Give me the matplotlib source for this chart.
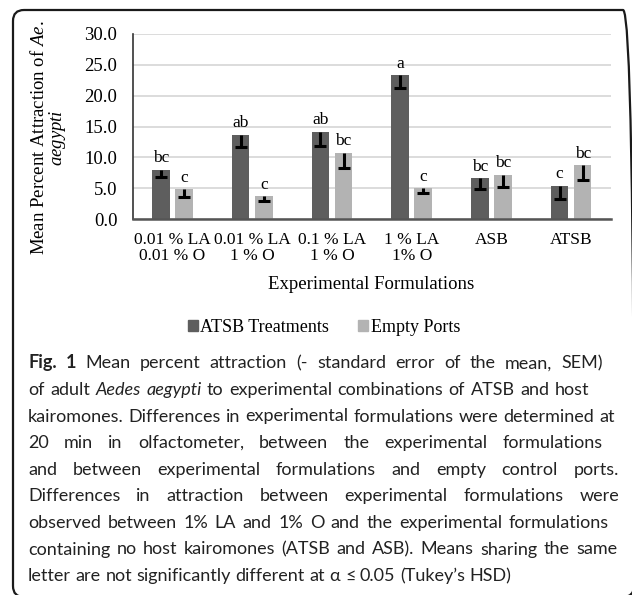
import matplotlib
matplotlib.use("Agg")
import matplotlib.pyplot as plt
import numpy as np
from matplotlib.patches import Patch, FancyBboxPatch
from matplotlib.transforms import IdentityTransform

plt.rcParams['font.family'] = ['Liberation Serif', 'DejaVu Serif']
plt.rcParams['mathtext.fontset'] = 'custom'
plt.rcParams['mathtext.rm'] = 'Liberation Serif'
plt.rcParams['mathtext.it'] = 'Liberation Serif:italic'

# data
categories = ["0.01 % LA\n0.01 % O", "0.01 % LA\n1 % O", "0.1 % LA\n1 % O",
              "1 % LA\n1% O", "ASB", "ATSB"]
atsb = [8.0, 13.7, 14.1, 23.3, 6.6, 5.4]
atsb_sem = [1.2, 2.1, 2.2, 2.0, 1.8, 2.2]
empty = [4.8, 3.7, 10.7, 5.0, 7.2, 8.7]
empty_sem = [1.2, 0.8, 2.4, 0.8, 2.0, 2.4]
atsb_letters = ["bc", "ab", "ab", "a", "bc", "c"]
empty_letters = ["c", "c", "bc", "c", "bc", "bc"]
series_names = ["ATSB Treatments", "Empty Ports"]
yticks = [0, 5, 10, 15, 20, 25, 30]

W, H = 632, 595
fig = plt.figure(figsize=(W / 100, H / 100), dpi=100)
ax = fig.add_axes([132.7 / W, 1 - 219 / H, (611 - 132.7) / W, (219 - 34) / H])

dark = '#5e5e5e'
light = '#b3b3b3'
bw = 0.22
off = 0.145
x = np.arange(len(categories))

for xs, vals, sems, col, letters in [(x - off, atsb, atsb_sem, dark, atsb_letters),
                                     (x + off, empty, empty_sem, light, empty_letters)]:
    vals = np.array(vals)
    sems = np.array(sems)
    ax.bar(xs, vals, bw, color=col, zorder=2)
    ax.vlines(xs, vals - sems, vals, color='black', lw=2.2, zorder=3)
    ax.plot(xs, vals - sems, ls='none', marker='_', ms=8, mew=2.2, color='black', zorder=3)
    for xi, v, lab in zip(xs, vals, letters):
        ax.annotate(lab, (xi, v), xytext=(0, 5.5), textcoords='offset points',
                    ha='center', va='baseline', fontsize=12.5)

ax.set_xlim(-0.5, len(categories) - 0.5)
ax.set_ylim(0, 30)
ax.set_yticks(yticks)
ax.set_yticklabels([f"{t:.1f}" for t in yticks], fontsize=13.5)
ax.set_xticks(x)
ax.set_xticklabels(categories, fontsize=12.5, linespacing=1.05)
ax.tick_params(axis='both', length=0)
ax.tick_params(axis='y', pad=11)
ax.tick_params(axis='x', pad=9)
ax.yaxis.grid(True, color='#d9d9d9', lw=1.3)
ax.set_axisbelow(True)
for s in ['top', 'right']:
    ax.spines[s].set_visible(False)
ax.spines['left'].set_color('#333333')
ax.spines['left'].set_linewidth(1.2)
ax.spines['bottom'].set_color('#555555')
ax.spines['bottom'].set_linewidth(1.8)
ax.spines['bottom'].set_zorder(4)

fig.text(371 / W, 1 - 284 / H, "Experimental Formulations", ha='center', va='center', fontsize=13.5)
fig.text(49 / W, 1 - 138 / H, "Mean Percent Attraction of $\\mathit{Ae.}$\n$\\mathit{aegypti}$",
         rotation=90, ha='center', va='center', multialignment='center',
         fontsize=13.5, linespacing=0.95)

handles = [Patch(color=dark), Patch(color=light)]
fig.legend(handles, series_names, loc='center', bbox_to_anchor=(324 / W, 1 - 327 / H),
           ncol=2, frameon=False, handlelength=0.55, handleheight=0.55,
           handletextpad=0.15, columnspacing=1.6, prop={'size': 13})

# caption, set word by word so some lines can be justified
cap_font = ['Lato', 'DejaVu Sans']
cap_lines = [
    [("Fig. 1", 'bold', 'normal'), ("Mean percent attraction (- standard error of the mean, SEM)", 'normal', 'normal')],
    [("of adult", 'normal', 'normal'), ("Aedes aegypti", 'normal', 'italic'),
     ("to experimental combinations of ATSB and host", 'normal', 'normal')],
    [("kairomones. Differences in experimental formulations were determined at", 'normal', 'normal')],
    [("20 min in olfactometer, between the experimental formulations", 'normal', 'normal')],
    [("and between experimental formulations and empty control ports.", 'normal', 'normal')],
    [("Differences in attraction between experimental formulations were", 'normal', 'normal')],
    [("observed between 1% LA and 1% O and the experimental formulations", 'normal', 'normal')],
    [("containing no host kairomones (ATSB and ASB). Means sharing the same", 'normal', 'normal')],
    [("letter are not significantly different at α ≤ 0.05 (Tukey’s HSD)", 'normal', 'normal')],
]
line_ends = [603, 589, 615, 603, 619, 619, 609, 617, None]
x0 = 28
base0 = 368.3
step = 26.6

renderer = fig.canvas.get_renderer()
ident = IdentityTransform()


def word_width(t):
    return t.get_window_extent(renderer).width


def make_words(segs, y, size):
    arts = []
    for text, weight, style in segs:
        for w in text.split():
            arts.append(fig.text(0, y, w, transform=ident, family=cap_font, fontsize=size,
                                 weight=weight, style=style, va='baseline', ha='left', color='#222222'))
    return arts


def space_width(size):
    p = fig.text(0, 0, "a a", transform=ident, family=cap_font, fontsize=size)
    q = fig.text(0, 0, "aa", transform=ident, family=cap_font, fontsize=size)
    s = word_width(p) - word_width(q)
    p.remove()
    q.remove()
    return s


# pick the largest size that lets every line fit its measured width
base_size = 14
sp = space_width(base_size)
ratio = 1.0
for segs, x_end in zip(cap_lines, line_ends):
    if x_end is None:
        continue
    arts = make_words(segs, 0, base_size)
    natural = sum(word_width(a) for a in arts) + sp * (len(arts) - 1)
    for a in arts:
        a.remove()
    ratio = min(ratio, (x_end - x0) / natural)
cap_size = base_size * ratio
space_w = space_width(cap_size)

for i, (segs, x_end) in enumerate(zip(cap_lines, line_ends)):
    y = H - (base0 + i * step)
    arts = make_words(segs, y, cap_size)
    widths = [word_width(a) for a in arts]
    gap = space_w
    if x_end is not None and len(arts) > 1:
        gap = max((x_end - x0 - sum(widths)) / (len(arts) - 1), 0.5 * space_w)
    cx = x0
    for a, wd in zip(arts, widths):
        a.set_x(cx)
        cx += wd + gap

border = FancyBboxPatch((13, -2), 634 - 13, H - 10 + 2, boxstyle="round,pad=0,rounding_size=11",
                        transform=ident, fill=False, lw=1.6, ec='#1a1a1a')
fig.add_artist(border)

fig.savefig('out.png', dpi=100)
